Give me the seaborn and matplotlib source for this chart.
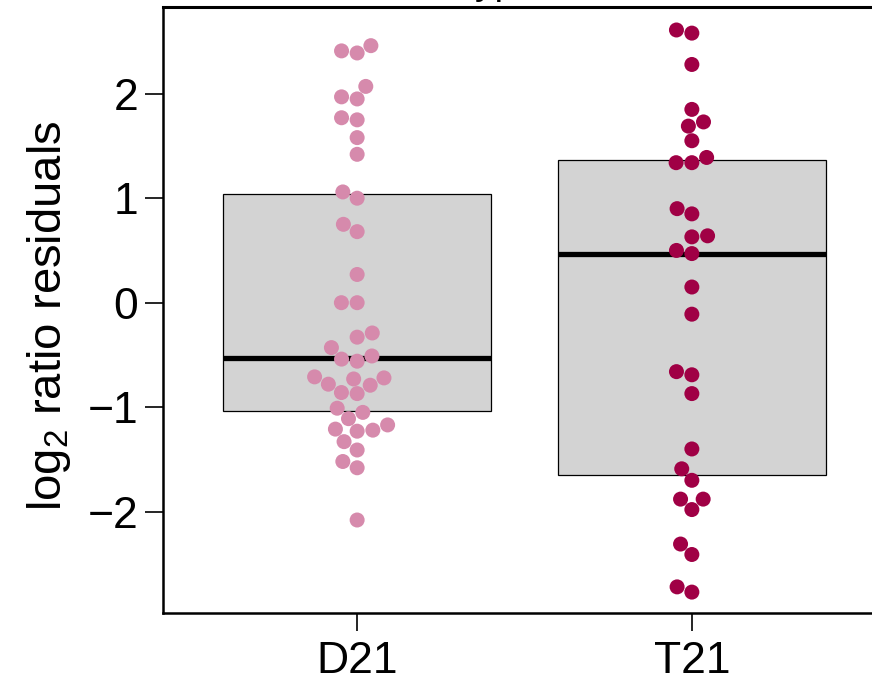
import numpy as np
import pandas as pd
import matplotlib
matplotlib.use("Agg")
import matplotlib.pyplot as plt
import seaborn as sns

# ---- data ----
categories = ["D21", "T21"]
d21_values = [2.46, 2.41, 2.39, 2.07, 1.97, 1.95, 1.77, 1.75, 1.58, 1.42,
              1.06, 1.00, 0.75, 0.68, 0.27, 0.00, 0.00, -0.29, -0.33, -0.43,
              -0.51, -0.54, -0.56, -0.71, -0.72, -0.73, -0.78, -0.79, -0.86, -0.87,
              -1.01, -1.05, -1.11, -1.17, -1.21, -1.22, -1.23, -1.33, -1.41, -1.52,
              -1.58, -2.08]
t21_values = [2.61, 2.58, 2.28, 1.85, 1.73, 1.69, 1.55, 1.39, 1.34, 1.34,
              0.90, 0.85, 0.64, 0.63, 0.50, 0.47, 0.15, -0.11, -0.66, -0.69,
              -0.87, -1.40, -1.59, -1.70, -1.88, -1.88, -1.98, -2.31, -2.41, -2.72,
              -2.77]
point_colors = ["#D68AAC", "#A00045"]
y_ticks = [-2, -1, 0, 1, 2]
y_ticklabels = ["\u22122", "\u22121", "0", "1", "2"]
y_label = r"log$_2$ ratio residuals"
title_text = "Genotype"

df = pd.DataFrame({
    "group": ["D21"] * len(d21_values) + ["T21"] * len(t21_values),
    "value": d21_values + t21_values,
})

plt.rcParams["font.family"] = ["Liberation Sans", "DejaVu Sans"]
plt.rcParams["mathtext.default"] = "regular"
plt.rcParams["mathtext.fontset"] = "custom"
plt.rcParams["mathtext.rm"] = "Liberation Sans"

fig = plt.figure(figsize=(8.72, 6.88), dpi=100)
ax = fig.add_axes([163 / 872, 1 - 613 / 688, 723 / 872, 606 / 688])

sns.boxplot(data=df, x="group", y="value", order=categories, ax=ax,
            width=0.8, whis=0, showfliers=False, showcaps=False,
            color="#D3D3D3", linecolor="black", linewidth=0.9,
            medianprops=dict(color="black", linewidth=3.8, solid_capstyle="butt"),
            whiskerprops=dict(linewidth=0))

sns.swarmplot(data=df, x="group", y="value", order=categories, hue="group",
              hue_order=categories, palette=point_colors, size=10.8,
              linewidth=0, legend=False, ax=ax, zorder=5)

ax.set_xlim(-0.58, 1.58)
ax.set_ylim(-2.97, 2.83)
ax.set_yticks(y_ticks)
ax.set_yticklabels(y_ticklabels)
ax.set_xlabel("")
ax.set_ylabel(y_label, fontsize=34)
ax.yaxis.set_label_coords(-0.1245, 0.49)

for s in ax.spines.values():
    s.set_linewidth(1.8)
    s.set_color("black")
    s.set_visible(True)
ax.spines["top"].set_linewidth(2.2)
ax.tick_params(axis="both", which="major", length=13, width=1.2,
               labelsize=32, color="black", direction="out")
ax.tick_params(axis="y", pad=5)
ax.tick_params(axis="x", pad=7)
ax.set_facecolor("white")

fig.text(369 / 872, 1 + 6.5 / 688, title_text, ha="left", va="baseline",
         fontsize=28)

fig.savefig("out.png", dpi=100, facecolor="white")
